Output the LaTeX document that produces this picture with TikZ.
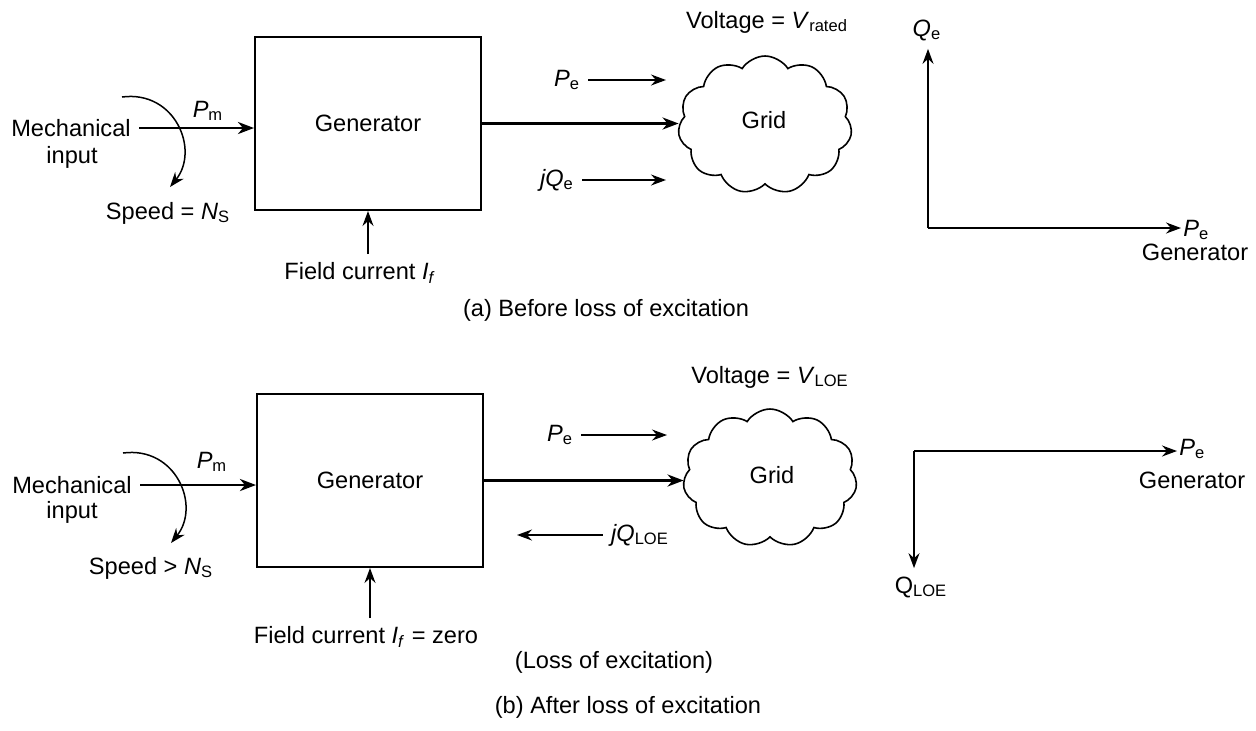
\documentclass[tikz,border=0pt]{standalone}
\usepackage{fontspec}
\setmainfont{Liberation Sans}
\usetikzlibrary{arrows.meta,shapes.symbols}
\newcommand{\qsub}[2]{\textit{#1}\textsubscript{#2}}
\begin{document}
\begin{tikzpicture}[x=0.5pt,y=-0.5pt, font=\fontsize{11.8}{14.5}\selectfont,
 txt/.style={inner sep=4pt},
 genbox/.style={draw, line width=1pt, minimum width=113pt, minimum height=86.5pt, inner sep=0pt},
 gridcloud/.style={cloud, draw, line width=0.8pt, cloud puffs=11, cloud puff arc=115, minimum width=87pt, minimum height=69pt, inner sep=0pt},
 thinarr/.style={line width=0.75pt, -{Stealth[length=7.5pt,width=5.5pt,inset=2.5pt]}},
 thickarr/.style={line width=1.4pt, -{Stealth[length=8pt,width=6pt,inset=2.5pt]}},
 axisarr/.style={line width=0.9pt, -{Stealth[length=7.5pt,width=5.5pt,inset=2.5pt]}},
]
\useasboundingbox (0,0) rectangle (1256,730);

%================ (a) =================
\node[genbox] (g1) at (368,123.5) {Generator};
\node[txt] (mech1) at (71,128) {Mechanical};
\node[txt] (inp1) at (72,157) {input};
\node[txt] (pm1) at (208,111) {\qsub{P}{m}};
\draw[thickarr] (mech1.east) -- (mech1.east -| g1.west);
\coordinate (cs1) at (122,97);
\coordinate (ce1) at (170,187);
\draw[thinarr] (cs1) .. controls (175,90) and (200,150) .. (ce1);
\node[txt] (sp1) at (168,213) {Speed = \qsub{N}{S}};
\node[txt] (fc1) at (360,273) {Field current \textit{I}\textsubscript{\textit{f}}};
\draw[thinarr] (g1.south |- fc1.north) -- (g1.south);

\node[gridcloud] (cl1) at (765,125) {};
\node (gr1) at (764,120) {Grid};
\draw[thickarr] (g1.east) -- (g1.east -| cl1.west);
\node[txt] (v1) at (767,22) {Voltage = \qsub{V}{rated}};
\node[txt] (pe1) at (567,80) {\qsub{P}{e}};
\coordinate (pe1e) at (666,80);
\draw[thinarr] (pe1.east) -- (pe1e);
\node[txt] (jq1) at (557,180) {\qsub{jQ}{e}};
\coordinate (jq1e) at (666,180);
\draw[thinarr] (jq1.east) -- (jq1e);

% axes (a)
\coordinate (o1) at (928,228);
\node[txt] (qe1) at (927,30) {\qsub{Q}{e}};
\draw[axisarr] (o1) -- (qe1.south -| o1);
\node[anchor=west, inner sep=1pt] (pea) at (1181,230) {\qsub{P}{e}};
\draw[axisarr] (o1) -- (pea.west |- o1);
\node[txt] (gena) at (1195,252) {Generator};

\node[txt] (capa) at (606,310) {(a) Before loss of excitation};

%================ (b) =================
\node[genbox] (g2) at (370,480.5) {Generator};
\node[txt] (mech2) at (72,485) {Mechanical};
\node[txt] (inp2) at (72,512) {input};
\node[txt] (pm2) at (212,462) {\qsub{P}{m}};
\draw[thickarr] (mech2.east) -- (mech2.east -| g2.west);
\coordinate (cs2) at (123,453);
\coordinate (ce2) at (171,543);
\draw[thinarr] (cs2) .. controls (176,446) and (201,506) .. (ce2);
\node[txt] (sp2) at (151,568) {Speed > \qsub{N}{S}};
\node[txt] (fc2) at (366,637) {Field current \textit{I}\textsubscript{\textit{f}} = zero};
\draw[thinarr] (g2.south |- fc2.north) -- (g2.south);

\node[gridcloud] (cl2) at (770,478) {};
\node (gr2) at (772,475) {Grid};
\draw[thickarr] (g2.east) -- (g2.east -| cl2.west);
\node[txt] (v2) at (770,377) {Voltage = \qsub{V}{LOE}};
\node[txt] (pe2) at (560,435) {\qsub{P}{e}};
\coordinate (pe2e) at (667,435);
\draw[thinarr] (pe2.east) -- (pe2e);
\node[txt] (jq2) at (640,535) {\qsub{jQ}{LOE}};
\coordinate (jq2e) at (517,535);
\draw[thinarr] (jq2.west) -- (jq2e);

% axes (b)
\coordinate (o2) at (914,451);
\node[anchor=west, inner sep=1pt] (peb) at (1177,449) {\qsub{P}{e}};
\draw[axisarr] (o2) -- (peb.west |- o2);
\node[txt] (genb) at (1192,480) {Generator};
\node[txt] (qloe) at (921,587) {Q\textsubscript{LOE}};
\draw[axisarr] (o2) -- (qloe.north -| o2);

\node[txt] (loe) at (614,662) {(Loss of excitation)};
\node[txt] (capb) at (628,707) {(b) After loss of excitation};
\end{tikzpicture}
\end{document}
